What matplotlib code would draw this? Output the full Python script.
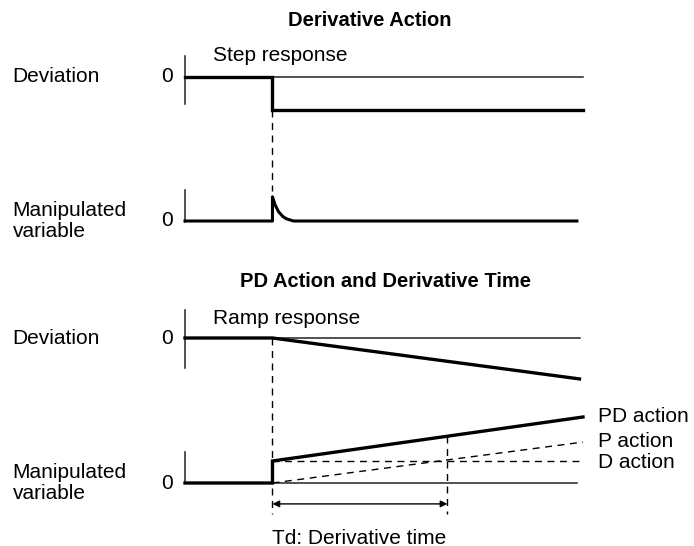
import matplotlib.pyplot as plt

plt.rcParams['font.family'] = ['Liberation Sans', 'DejaVu Sans']

# time axis: step / ramp starts at t=1, derivative time Td = 2
t_start = 1.0
td = 2.0

# Derivative action, step input
step_t = [0, 1, 1, 4.55]
step_dev = [0, 0, -1.5, -1.5]
step_mv_t = [0, 1, 1, 1.03, 1.07, 1.12, 1.16, 1.24, 4.48]
step_mv = [0, 0, 1.1, 0.73, 0.42, 0.2, 0.1, 0, 0]

# PD action, ramp input
ramp_t = [0, 1, 4.51]
ramp_dev = [0, 0, -1.86]
pd_t = [0, 1, 1, 4.55]
pd_mv = [0, 0, 1.0, 3.0]
p_t = [1, 4.55]
p_mv = [0, 1.86]
d_t = [1, 4.55]
d_mv = [1.0, 1.0]

action_labels = ['PD action', 'P action', 'D action']
action_y = [3.0, 1.9, 0.95]

W, H = 694, 546
UNIT = 22.0   # pixels per value unit
X0, X1 = 185, 583
XMAX = 4.55

fig = plt.figure(figsize=(W / 100, H / 100), dpi=100)


def panel(zero_px, lo, hi):
    bottom = zero_px - lo * UNIT
    ax = fig.add_axes([X0 / W, 1 - bottom / H, (X1 - X0) / W, (hi - lo) * UNIT / H])
    ax.set_xlim(0, XMAX)
    ax.set_ylim(lo, hi)
    ax.axis('off')
    return ax


thick = dict(color='black', lw=2.4, solid_joinstyle='miter', clip_on=False)
thin = dict(color='#222222', lw=1.1, clip_on=False)
dash = dict(color='black', lw=1.0, ls=(0, (5, 4)), clip_on=False)
fs = 15

ax1 = panel(77, -1.6, 1.2)
ax2 = panel(221, -0.3, 1.5)
ax3 = panel(338, -2.0, 1.4)
ax4 = panel(483, -1.6, 3.2)

# top: step response
ax1.plot([0, 0], [0.95, -1.23], **thin)
ax1.plot([0, 4.55], [0, 0], **thin)
ax1.plot(step_t, step_dev, **thick)
ax1.text(0.32, 0.74, 'Step response', fontsize=fs, va='baseline')

ax2.plot([0, 0], [1.41, -0.05], **thin)
ax2.plot(step_mv_t, step_mv, color='black', lw=2.2, clip_on=False)
ax2.plot([t_start, t_start], [5.05, 1.36], **dash)

# bottom: ramp response
ax3.plot([0, 0], [1.27, -1.36], **thin)
ax3.plot([0, 4.51], [0, 0], **thin)
ax3.plot(ramp_t, ramp_dev, **thick)
ax3.text(0.32, 0.64, 'Ramp response', fontsize=fs, va='baseline')

ax4.plot([0, 0], [1.41, 0], **thin)
ax4.plot([0, 4.48], [0, 0], **thin)
ax4.plot(pd_t, pd_mv, **thick)
ax4.plot(p_t, p_mv, **dash)
ax4.plot(d_t, d_mv, **dash)
ax4.plot([t_start, t_start], [6.59, -1.41], **dash)
pd_at_td = pd_mv[2] + (pd_mv[3] - pd_mv[2]) * td / (pd_t[3] - pd_t[2])
ax4.plot([t_start + td, t_start + td], [pd_at_td, -1.41], **dash)
ax4.annotate('', xy=(t_start + td, -0.95), xytext=(t_start, -0.95),
             arrowprops=dict(arrowstyle='<|-|>', color='black', lw=1.0,
                             mutation_scale=10, shrinkA=0, shrinkB=0))
ax4.text(t_start, -2.5, 'Td: Derivative time', fontsize=fs, va='center')
for lab, y in zip(action_labels, action_y):
    ax4.text(4.72, y, lab, fontsize=fs, va='center')

# row labels and zero marks
for ax, name in [(ax1, 'Deviation'), (ax2, 'Manipulated\nvariable'),
                 (ax3, 'Deviation'), (ax4, 'Manipulated\nvariable')]:
    ax.text(-1.97, 0, name, fontsize=fs, va='center', ha='left', linespacing=1.12)
    ax.text(-0.14, 0, '0', fontsize=fs, va='center', ha='right')

fig.text(370 / W, 1 - 26 / H, 'Derivative Action', fontsize=14.5,
         fontweight='bold', ha='center', va='baseline')
fig.text(385 / W, 1 - 287 / H, 'PD Action and Derivative Time', fontsize=14.5,
         fontweight='bold', ha='center', va='baseline')

fig.savefig('out.png', dpi=100)
